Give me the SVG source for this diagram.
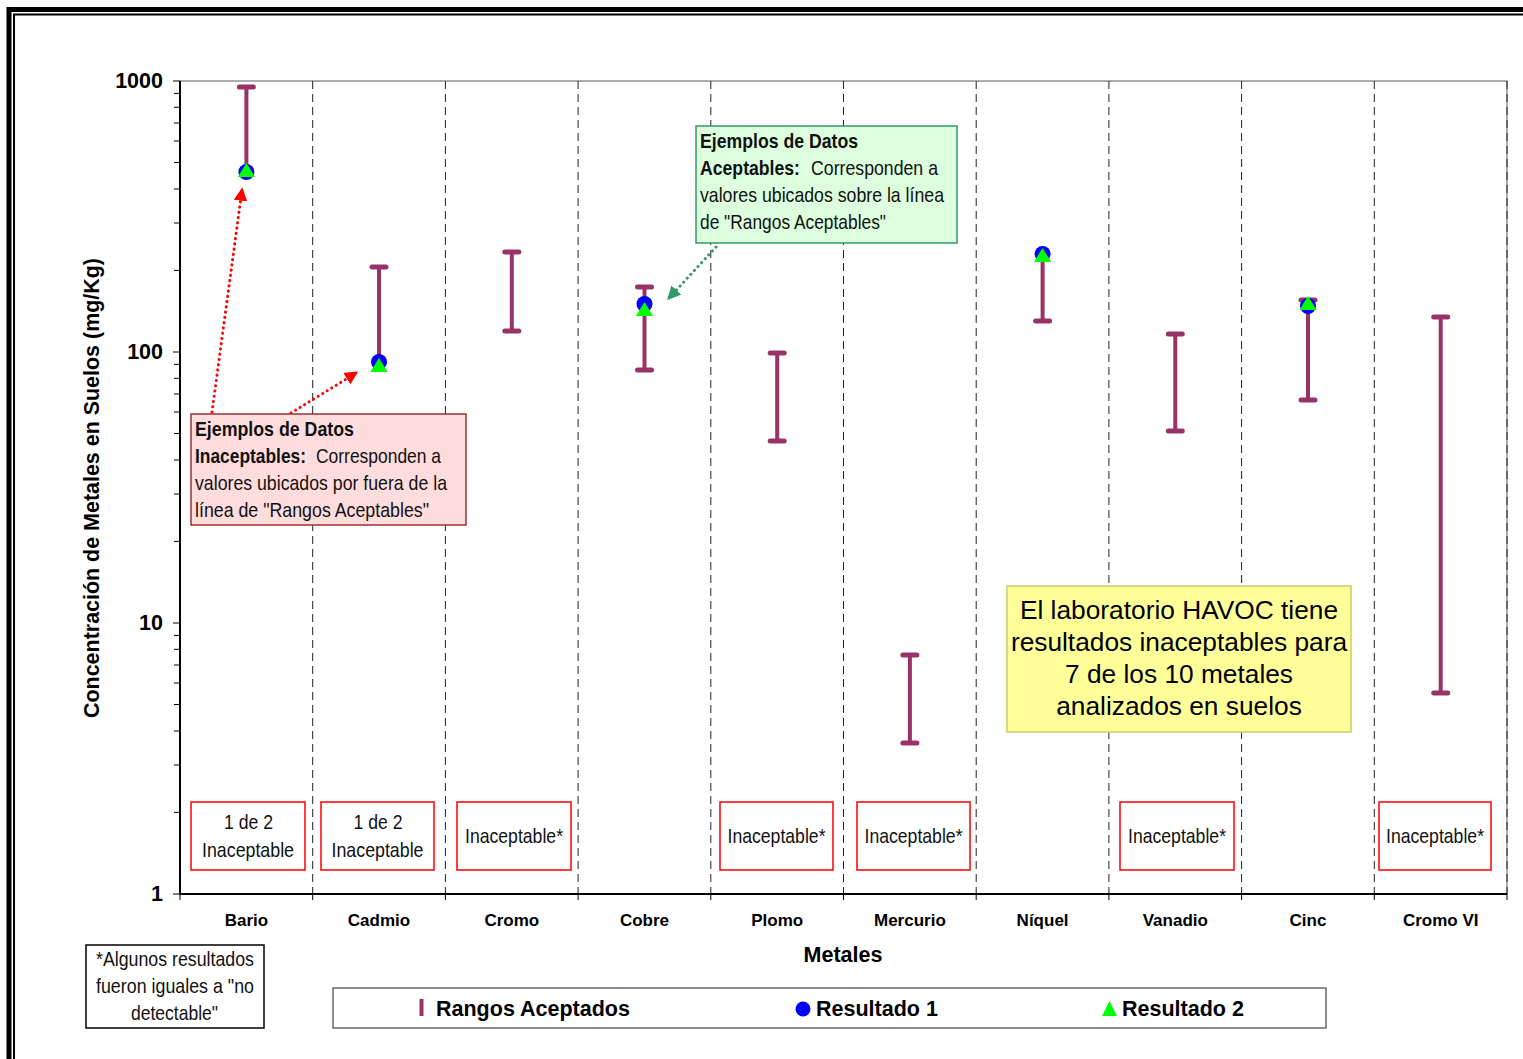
<svg xmlns="http://www.w3.org/2000/svg" width="1523" height="1059" viewBox="0 0 1523 1059">
<style>
.ax{font-family:"Liberation Sans",Arial,sans-serif;font-weight:bold;fill:#000}
.nar{font-family:"Liberation Sans",Arial,sans-serif;fill:#111}
.bar{stroke:#993366;stroke-width:4;stroke-linecap:round;fill:none}
.cap{stroke:#993366;stroke-width:5;stroke-linecap:round}
.sep{stroke:#222;stroke-width:1;stroke-dasharray:8,5}
.tk{stroke:#000;stroke-width:1}
.rb{fill:#fff;stroke:#ff0000;stroke-width:1.5}
</style>
<defs>
<marker id="ar" viewBox="0 0 10 10" refX="8" refY="5" markerWidth="4.5" markerHeight="4.5" orient="auto"><path d="M0,0 L10,5 L0,10 z" fill="#ff0000"/></marker>
<marker id="ag" viewBox="0 0 10 10" refX="8" refY="5" markerWidth="4.5" markerHeight="4.5" orient="auto"><path d="M0,0 L10,5 L0,10 z" fill="#339966"/></marker>
</defs>
<rect width="1523" height="1059" fill="#fff"/>
<!-- frame -->
<path d="M9,1059 V9.5 H1523" fill="none" stroke="#000" stroke-width="5"/>
<path d="M14,1059 V14.5 H1523" fill="none" stroke="#000" stroke-width="2"/>

<!-- plot area -->
<g id="plot">
<rect x="180" y="81" width="1327" height="813" fill="#fff" stroke="#777" stroke-width="1.2"/>
<g id="separators">
<line class="sep" x1="312.7" y1="81" x2="312.7" y2="894"/>
<line class="sep" x1="445.4" y1="81" x2="445.4" y2="894"/>
<line class="sep" x1="578.1" y1="81" x2="578.1" y2="894"/>
<line class="sep" x1="710.8" y1="81" x2="710.8" y2="894"/>
<line class="sep" x1="843.5" y1="81" x2="843.5" y2="894"/>
<line class="sep" x1="976.2" y1="81" x2="976.2" y2="894"/>
<line class="sep" x1="1108.9" y1="81" x2="1108.9" y2="894"/>
<line class="sep" x1="1241.6" y1="81" x2="1241.6" y2="894"/>
<line class="sep" x1="1374.3" y1="81" x2="1374.3" y2="894"/>
<line class="sep" x1="1507" y1="81" x2="1507" y2="894"/>
</g>
<line x1="180" y1="81" x2="180" y2="895" stroke="#000" stroke-width="2"/>
<line x1="179" y1="894" x2="1507" y2="894" stroke="#000" stroke-width="2"/>
<g id="yticks" class="tk">
<path d="M173,81H180M173,352H180M173,623H180M173,894H180"/>
<path d="M174,93.4H180M174,107.3H180M174,123H180M174,141H180M174,162.5H180M174,189H180M174,223H180M174,270.4H180"/>
<path d="M174,364.4H180M174,378.3H180M174,394H180M174,412H180M174,433.5H180M174,460H180M174,494H180M174,541.4H180"/>
<path d="M174,635.4H180M174,649.3H180M174,665H180M174,683H180M174,704.5H180M174,731H180M174,765H180M174,812.4H180"/>
</g>
<g id="xticks" class="tk">
<path d="M180,894V900M312.7,894V900M445.4,894V900M578.1,894V900M710.8,894V900M843.5,894V900M976.2,894V900M1108.9,894V900M1241.6,894V900M1374.3,894V900M1507,894V900"/>
</g>
<g class="ax" font-size="21.5" text-anchor="end">
<text x="163" y="88">1000</text>
<text x="163" y="359">100</text>
<text x="163" y="630">10</text>
<text x="163" y="901">1</text>
</g>
<g class="ax" font-size="17" text-anchor="middle">
<text x="246.4" y="926">Bario</text>
<text x="379" y="926">Cadmio</text>
<text x="511.8" y="926">Cromo</text>
<text x="644.5" y="926">Cobre</text>
<text x="777.2" y="926">Plomo</text>
<text x="909.9" y="926">Mercurio</text>
<text x="1042.6" y="926">Níquel</text>
<text x="1175.3" y="926">Vanadio</text>
<text x="1308" y="926">Cinc</text>
<text x="1440.7" y="926">Cromo VI</text>
</g>
<text class="ax" x="843" y="962" font-size="21.5" text-anchor="middle">Metales</text>
<text class="ax" font-size="21.5" text-anchor="middle" transform="translate(99,488) rotate(-90)" textLength="460" lengthAdjust="spacingAndGlyphs">Concentración de Metales en Suelos (mg/Kg)</text>
</g>

<!-- range bars -->
<g id="ranges">
<g id="r-bario"><line class="bar" x1="246.4" y1="87" x2="246.4" y2="172"/><line class="cap" x1="239.4" y1="87" x2="253.4" y2="87"/></g>
<g id="r-cadmio"><line class="bar" x1="379" y1="267" x2="379" y2="362"/><line class="cap" x1="372" y1="267" x2="386" y2="267"/></g>
<g id="r-cromo"><line class="bar" x1="511.8" y1="252" x2="511.8" y2="331"/><line class="cap" x1="504.8" y1="252" x2="518.8" y2="252"/><line class="cap" x1="504.8" y1="331" x2="518.8" y2="331"/></g>
<g id="r-cobre"><line class="bar" x1="644.5" y1="287" x2="644.5" y2="370"/><line class="cap" x1="637.5" y1="287" x2="651.5" y2="287"/><line class="cap" x1="637.5" y1="370" x2="651.5" y2="370"/></g>
<g id="r-plomo"><line class="bar" x1="777.2" y1="353" x2="777.2" y2="441"/><line class="cap" x1="770.2" y1="353" x2="784.2" y2="353"/><line class="cap" x1="770.2" y1="441" x2="784.2" y2="441"/></g>
<g id="r-mercurio"><line class="bar" x1="909.9" y1="655" x2="909.9" y2="743"/><line class="cap" x1="902.9" y1="655" x2="916.9" y2="655"/><line class="cap" x1="902.9" y1="743" x2="916.9" y2="743"/></g>
<g id="r-niquel"><line class="bar" x1="1042.6" y1="254" x2="1042.6" y2="321"/><line class="cap" x1="1035.6" y1="321" x2="1049.6" y2="321"/></g>
<g id="r-vanadio"><line class="bar" x1="1175.3" y1="334" x2="1175.3" y2="431"/><line class="cap" x1="1168.3" y1="334" x2="1182.3" y2="334"/><line class="cap" x1="1168.3" y1="431" x2="1182.3" y2="431"/></g>
<g id="r-cinc"><line class="bar" x1="1308" y1="300" x2="1308" y2="400"/><line class="cap" x1="1301" y1="300" x2="1315" y2="300"/><line class="cap" x1="1301" y1="400" x2="1315" y2="400"/></g>
<g id="r-cromovi"><line class="bar" x1="1440.7" y1="317" x2="1440.7" y2="693"/><line class="cap" x1="1433.7" y1="317" x2="1447.7" y2="317"/><line class="cap" x1="1433.7" y1="693" x2="1447.7" y2="693"/></g>
</g>

<!-- results -->
<g id="results">
<circle cx="246.4" cy="172" r="8" fill="#0000ff"/><path d="M246.4,163 L255,177 L237.8,177 z" fill="#00ff00"/>
<circle cx="379" cy="362" r="8" fill="#0000ff"/><path d="M379,358 L387.6,372 L370.4,372 z" fill="#00ff00"/>
<circle cx="644.5" cy="304" r="8" fill="#0000ff"/><path d="M644.5,302 L653.1,316 L635.9,316 z" fill="#00ff00"/>
<circle cx="1042.6" cy="254" r="8" fill="#0000ff"/><path d="M1042.6,248 L1051.2,262 L1034,262 z" fill="#00ff00"/>
<circle cx="1308" cy="306" r="8" fill="#0000ff"/><path d="M1308,296 L1316.6,310 L1299.4,310 z" fill="#00ff00"/>
</g>

<!-- connectors -->
<g id="connectors" fill="none" stroke-width="3" stroke-dasharray="0.1,5.2" stroke-linecap="round">
<line x1="212" y1="412" x2="242" y2="190" stroke="#ff0000" marker-end="url(#ar)"/>
<line x1="291" y1="413" x2="356" y2="373" stroke="#ff0000" marker-end="url(#ar)"/>
<line x1="716" y1="247" x2="669" y2="298" stroke="#339966" marker-end="url(#ag)"/>
</g>

<!-- annotation boxes -->
<g id="box-inaceptables">
<rect x="191" y="414" width="275" height="111" fill="#ffdddd" stroke="#993333" stroke-width="1.5"/>
<g class="nar" font-size="21">
<text x="195" y="436" font-weight="bold" textLength="159" lengthAdjust="spacingAndGlyphs">Ejemplos de Datos</text>
<text x="195" y="463" font-weight="bold" textLength="111" lengthAdjust="spacingAndGlyphs">Inaceptables:</text>
<text x="316" y="463" textLength="125" lengthAdjust="spacingAndGlyphs">Corresponden a</text>
<text x="195" y="490" textLength="252" lengthAdjust="spacingAndGlyphs">valores ubicados por fuera de la</text>
<text x="195" y="517" textLength="234" lengthAdjust="spacingAndGlyphs">línea de "Rangos Aceptables"</text>
</g>
</g>
<g id="box-aceptables">
<rect x="696" y="126" width="261" height="117" fill="#ddffdd" stroke="#339966" stroke-width="1.5"/>
<g class="nar" font-size="21">
<text x="700" y="148" font-weight="bold" textLength="158" lengthAdjust="spacingAndGlyphs">Ejemplos de Datos</text>
<text x="700" y="175" font-weight="bold" textLength="100" lengthAdjust="spacingAndGlyphs">Aceptables:</text>
<text x="811" y="175" textLength="127" lengthAdjust="spacingAndGlyphs">Corresponden a</text>
<text x="700" y="202" textLength="244" lengthAdjust="spacingAndGlyphs">valores ubicados sobre la línea</text>
<text x="700" y="229" textLength="186" lengthAdjust="spacingAndGlyphs">de "Rangos Aceptables"</text>
</g>
</g>
<g id="box-havoc">
<rect x="1007" y="586" width="344" height="146" fill="#ffff99" stroke="#cccc66" stroke-width="1.5"/>
<g font-family="Liberation Sans,Arial,sans-serif" font-size="26.3" fill="#000" text-anchor="middle">
<text x="1179" y="619">El laboratorio HAVOC tiene</text>
<text x="1179" y="651">resultados inaceptables para</text>
<text x="1179" y="683">7 de los 10 metales</text>
<text x="1179" y="715">analizados en suelos</text>
</g>
</g>

<!-- status boxes -->
<g id="status-bario"><rect class="rb" x="191" y="802" width="114" height="68"/><text class="nar" font-size="21" text-anchor="middle" x="248.5" y="829" textLength="49" lengthAdjust="spacingAndGlyphs">1 de 2</text><text class="nar" font-size="21" text-anchor="middle" x="248" y="857" textLength="92" lengthAdjust="spacingAndGlyphs">Inaceptable</text></g>
<g id="status-cadmio"><rect class="rb" x="321" y="802" width="113" height="68"/><text class="nar" font-size="21" text-anchor="middle" x="378" y="829" textLength="49" lengthAdjust="spacingAndGlyphs">1 de 2</text><text class="nar" font-size="21" text-anchor="middle" x="377.5" y="857" textLength="92" lengthAdjust="spacingAndGlyphs">Inaceptable</text></g>
<g id="status-cromo"><rect class="rb" x="457" y="802" width="114" height="68"/><text class="nar" font-size="21" text-anchor="middle" x="514" y="843" textLength="98" lengthAdjust="spacingAndGlyphs">Inaceptable*</text></g>
<g id="status-plomo"><rect class="rb" x="720" y="802" width="113" height="68"/><text class="nar" font-size="21" text-anchor="middle" x="776.5" y="843" textLength="98" lengthAdjust="spacingAndGlyphs">Inaceptable*</text></g>
<g id="status-mercurio"><rect class="rb" x="857" y="802" width="113" height="68"/><text class="nar" font-size="21" text-anchor="middle" x="913.5" y="843" textLength="98" lengthAdjust="spacingAndGlyphs">Inaceptable*</text></g>
<g id="status-vanadio"><rect class="rb" x="1120" y="802" width="114" height="68"/><text class="nar" font-size="21" text-anchor="middle" x="1177" y="843" textLength="98" lengthAdjust="spacingAndGlyphs">Inaceptable*</text></g>
<g id="status-cromovi"><rect class="rb" x="1379" y="802" width="112" height="68"/><text class="nar" font-size="21" text-anchor="middle" x="1435" y="843" textLength="98" lengthAdjust="spacingAndGlyphs">Inaceptable*</text></g>

<!-- footnote -->
<g id="footnote">
<rect x="86" y="945" width="178" height="83" fill="#fff" stroke="#000" stroke-width="1.5"/>
<g class="nar" font-size="21" text-anchor="middle">
<text x="175" y="966" textLength="158" lengthAdjust="spacingAndGlyphs">*Algunos resultados</text>
<text x="175" y="993" textLength="158" lengthAdjust="spacingAndGlyphs">fueron iguales a "no</text>
<text x="174.5" y="1020" textLength="87" lengthAdjust="spacingAndGlyphs">detectable"</text>
</g>
</g>

<!-- legend -->
<g id="legend">
<rect x="333" y="988" width="993" height="40" fill="#fff" stroke="#444" stroke-width="1.2"/>
<line x1="421.5" y1="999" x2="421.5" y2="1016" stroke="#993366" stroke-width="4"/>
<text class="ax" x="436" y="1016" font-size="21.5">Rangos Aceptados</text>
<circle cx="803" cy="1009" r="7.5" fill="#0000ff"/>
<text class="ax" x="816" y="1016" font-size="21.5">Resultado 1</text>
<path d="M1109.5,1001 L1117,1016 L1102,1016 z" fill="#00ff00"/>
<text class="ax" x="1122" y="1016" font-size="21.5">Resultado 2</text>
</g>
</svg>
